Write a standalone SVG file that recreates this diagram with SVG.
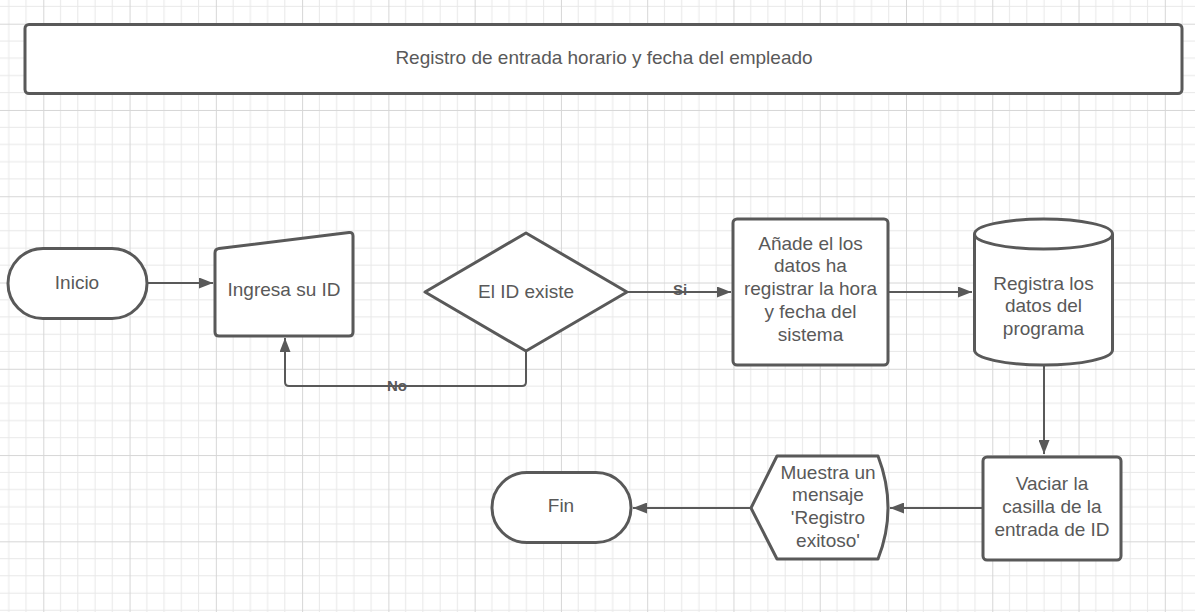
<svg xmlns="http://www.w3.org/2000/svg" width="1195" height="612" viewBox="0 0 1195 612">
<defs>
<pattern id="grid" patternUnits="userSpaceOnUse" x="43.3" y="23.7" width="86.27" height="86.27">
<path d="M17.25,0V86.27M34.5,0V86.27M51.76,0V86.27M69.02,0V86.27M0,17.25H86.27M0,34.5H86.27M0,51.76H86.27M0,69.02H86.27" stroke="#e8e8e8" stroke-width="1" fill="none"/>
<path d="M0.5,0V86.27M0,0.5H86.27" stroke="#d6d6d6" stroke-width="1" fill="none"/>
</pattern>
<marker id="arr" markerUnits="userSpaceOnUse" markerWidth="14" markerHeight="11" refX="14" refY="5.5" orient="auto">
<path d="M0,0L14,5.5L0,11z" fill="#595959"/>
</marker>
</defs>
<style>
.s{fill:#fff;stroke:#595959;stroke-width:3;stroke-linejoin:round}
.t{font-family:"Liberation Sans",Arial,sans-serif;font-size:19px;fill:#595959;text-anchor:middle}
.l{font-family:"Liberation Sans",Arial,sans-serif;font-size:15px;font-weight:bold;fill:#595959;text-anchor:middle}
.c{fill:none;stroke:#595959;stroke-width:2}
</style>
<rect width="1195" height="612" fill="#fff"/>
<rect width="1195" height="612" fill="url(#grid)"/>
<g id="title">
<rect class="s" x="25" y="24.5" width="1157" height="69" rx="4"/>
<text class="t" x="604" y="64">Registro de entrada horario y fecha del empleado</text>
</g>
<g id="connectors">
<path class="c" d="M147,283L213,283" marker-end="url(#arr)"/>
<path class="c" d="M627,292L731,292" marker-end="url(#arr)"/>
<path class="c" d="M888,292L972,292" marker-end="url(#arr)"/>
<path class="c" d="M1044,365L1044,454" marker-end="url(#arr)"/>
<path class="c" d="M983,508L890,508" marker-end="url(#arr)"/>
<path class="c" d="M751,508L633,508" marker-end="url(#arr)"/>
<path class="c" d="M526,351L526,382Q526,386 522,386L289,386Q285,386 285,382L285,338" marker-end="url(#arr)"/>
<text class="l" x="680" y="295">Si</text>
<text class="l" x="397" y="390.5">No</text>
</g>
<g id="inicio">
<rect class="s" x="8" y="248.5" width="139" height="70" rx="35"/>
<text class="t" x="77" y="288.5">Inicio</text>
</g>
<g id="ingresa">
<path class="s" d="M215,253Q215,249 219,248.5L349,232.5Q353,232 353,236L353,332Q353,336 349,336L219,336Q215,336 215,332Z"/>
<text class="t" x="284" y="296">Ingresa su ID</text>
</g>
<g id="existe">
<path class="s" d="M425,292L526,233L627,292L526,351Z"/>
<text class="t" x="526" y="297.5">El ID existe</text>
</g>
<g id="anade">
<rect class="s" x="733" y="219" width="155" height="146" rx="4"/>
<text class="t" x="810.5" y="249.5">Añade el los</text>
<text class="t" x="810.5" y="272.4">datos ha</text>
<text class="t" x="810.5" y="295.3">registrar la hora</text>
<text class="t" x="810.5" y="318.2">y fecha del</text>
<text class="t" x="810.5" y="341.1">sistema</text>
</g>
<g id="registra">
<path class="s" d="M974.5,234L974.5,350A69,15 0 0 0 1112.5,350L1112.5,234A69,15 0 0 0 974.5,234Z"/>
<path class="s" d="M974.5,234A69,15 0 0 0 1112.5,234" fill="none"/>
<text class="t" x="1043.5" y="289.5">Registra los</text>
<text class="t" x="1043.5" y="312">datos del</text>
<text class="t" x="1043.5" y="334.5">programa</text>
</g>
<g id="vaciar">
<rect class="s" x="983" y="457" width="138" height="103" rx="4"/>
<text class="t" x="1052" y="490">Vaciar la</text>
<text class="t" x="1052" y="512.8">casilla de la</text>
<text class="t" x="1052" y="535.6">entrada de ID</text>
</g>
<g id="muestra">
<path class="s" d="M751,508L777,456L878,456Q898,508 878,559L777,559Z"/>
<text class="t" x="828" y="478.5">Muestra un</text>
<text class="t" x="828" y="501.3">mensaje</text>
<text class="t" x="828" y="524">'Registro</text>
<text class="t" x="828" y="546.8">exitoso'</text>
</g>
<g id="fin">
<rect class="s" x="492" y="472.5" width="139" height="70" rx="35"/>
<text class="t" x="561" y="511.7">Fin</text>
</g>
</svg>
